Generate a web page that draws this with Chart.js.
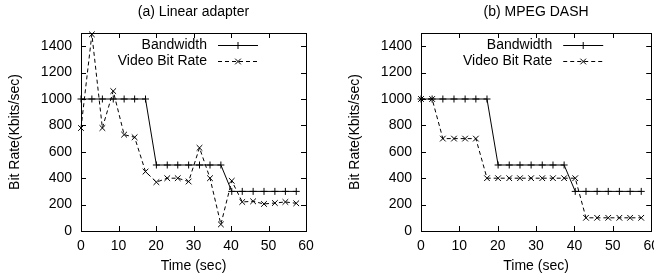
<!DOCTYPE html>
<html>
<head>
<meta charset="utf-8">
<script src="https://cdn.jsdelivr.net/npm/chart.js@4"></script>
<style>
  html, body { margin: 0; padding: 0; background: #fff; overflow: hidden; }
  body { width: 654px; height: 279px; position: relative; }
  .box { position: absolute; top: 0; height: 279px; }
</style>
</head>
<body>
<div class="box" style="left:0;width:330px"><canvas id="chartA"></canvas></div>
<div class="box" style="left:340px;width:326px"><canvas id="chartB"></canvas></div>
<script>
// sample times (sec)
const times = [0, 2.9, 5.7, 8.6, 11.5, 14.3, 17.2, 20.1, 23, 25.8, 28.7, 31.6, 34.4, 37.3, 40.2, 43, 45.9, 48.8, 51.7, 54.5, 57.4];

// (a) Linear adapter
const bandwidthA = [1000, 1000, 1000, 1000, 1000, 1000, 1000, 500, 500, 500, 500, 500, 500, 500, 300, 300, 300, 300, 300, 300, 300];
const videoA = [780, 1490, 780, 1060, 730, 710, 450, 370, 400, 400, 375, 630, 400, 50, 380, 220, 225, 205, 212, 220, 210];

// (b) MPEG DASH
const bandwidthB = [1000, 1000, 1000, 1000, 1000, 1000, 1000, 500, 500, 500, 500, 500, 500, 500, 300, 300, 300, 300, 300, 300, 300];
const videoB = [1000, 1000, 700, 700, 700, 700, 400, 400, 400, 400, 400, 400, 400, 400, 400, 100, 100, 100, 100, 100, 100];

const xTicks = [0, 10, 20, 30, 40, 50, 60];
const yTicks = [0, 200, 400, 600, 800, 1000, 1200, 1400];

const FONT = 'Liberation Sans, Arial, Helvetica, sans-serif';
const FSIZE = 14;

const toXY = (vals) => vals.map((v, i) => ({ x: times[i], y: v }));

// gnuplot-like frame, inward ticks and legend
const framePlugin = {
    id: 'frame',
    afterDraw(chart) {
        const { ctx, chartArea: a, scales } = chart;
        ctx.save();
        ctx.strokeStyle = '#000';
        ctx.lineWidth = 1;
        ctx.setLineDash([]);
        ctx.strokeRect(Math.round(a.left) + 0.5, Math.round(a.top) + 0.5,
            Math.round(a.right - a.left), Math.round(a.bottom - a.top));

        const tl = 5;
        ctx.beginPath();
        scales.x.ticks.forEach(t => {
            const px = Math.round(scales.x.getPixelForValue(t.value)) + 0.5;
            ctx.moveTo(px, a.bottom); ctx.lineTo(px, a.bottom - tl);
            ctx.moveTo(px, a.top); ctx.lineTo(px, a.top + tl);
        });
        scales.y.ticks.forEach(t => {
            const py = Math.round(scales.y.getPixelForValue(t.value)) + 0.5;
            ctx.moveTo(a.left, py); ctx.lineTo(a.left + tl, py);
            ctx.moveTo(a.right, py); ctx.lineTo(a.right - tl, py);
        });
        ctx.stroke();

        // legend
        ctx.font = FSIZE + 'px ' + FONT;
        ctx.fillStyle = '#000';
        ctx.textAlign = 'right';
        ctx.textBaseline = 'middle';
        chart.data.datasets.forEach((ds, i) => {
            const y = Math.round(a.top + 12 + i * 15.5) + 0.5;
            const textEnd = a.right - 99;
            const x0 = a.right - 88, x1 = a.right - 48;
            ctx.fillText(ds.label, textEnd, y);
            ctx.setLineDash(ds.borderDash || []);
            ctx.beginPath();
            ctx.moveTo(x0, y); ctx.lineTo(x1, y);
            ctx.stroke();
            ctx.setLineDash([]);
            const mx = (x0 + x1) / 2, r = ds.pointRadius;
            ctx.beginPath();
            if (ds.pointStyle === 'cross') {
                ctx.moveTo(mx - r, y); ctx.lineTo(mx + r, y);
                ctx.moveTo(mx, y - r); ctx.lineTo(mx, y + r);
            } else {
                const d = r * 0.7071;
                ctx.moveTo(mx - d, y - d); ctx.lineTo(mx + d, y + d);
                ctx.moveTo(mx - d, y + d); ctx.lineTo(mx + d, y - d);
            }
            ctx.stroke();
        });
        ctx.restore();
    }
};

const makeChart = (id, title, bandwidth, video, padRight) => {
    const ctx = document.getElementById(id).getContext('2d');
    return new Chart(ctx, {
        type: 'line',
        data: {
            datasets: [{
                label: 'Bandwidth',
                data: toXY(bandwidth),
                borderColor: '#000',
                borderWidth: 1,
                pointStyle: 'cross',
                pointRadius: 3.5,
                pointBorderColor: '#000',
                pointBorderWidth: 1,
                tension: 0,
                fill: false,
                clip: false
            }, {
                label: 'Video Bit Rate',
                data: toXY(video),
                borderColor: '#000',
                borderWidth: 1,
                borderDash: [4, 3],
                pointStyle: 'crossRot',
                pointRadius: 4,
                pointBorderColor: '#000',
                pointBorderWidth: 1,
                tension: 0,
                fill: false,
                clip: false
            }]
        },
        options: {
            responsive: true,
            maintainAspectRatio: false,
            animation: false,
            layout: { padding: { left: 0, right: padRight, top: 0, bottom: 0 } },
            plugins: {
                legend: { display: false },
                tooltip: { enabled: false },
                title: {
                    display: true,
                    fullSize: false,
                    text: title,
                    color: '#000',
                    font: { family: FONT, size: FSIZE, weight: 'normal' },
                    padding: { top: 4, bottom: 12.2 }
                }
            },
            scales: {
                x: {
                    type: 'linear',
                    min: 0, max: 60,
                    afterBuildTicks: (s) => { s.ticks = xTicks.map(v => ({ value: v })); },
                    afterFit: (s) => { s.height = 48; },
                    grid: { display: false, drawTicks: false },
                    border: { display: false },
                    ticks: {
                        color: '#000', padding: 7, maxRotation: 0,
                        font: { family: FONT, size: FSIZE },
                        callback: (v) => String(v)
                    },
                    title: {
                        display: true, text: 'Time (sec)', color: '#000',
                        font: { family: FONT, size: FSIZE }, padding: { top: 0, bottom: 4 }
                    }
                },
                y: {
                    type: 'linear',
                    min: 0, max: 1500,
                    afterBuildTicks: (s) => { s.ticks = yTicks.map(v => ({ value: v })); },
                    afterFit: (s) => { s.width = 81; },
                    grid: { display: false, drawTicks: false },
                    border: { display: false },
                    ticks: {
                        color: '#000', padding: 9,
                        font: { family: FONT, size: FSIZE },
                        callback: (v) => String(v)
                    },
                    title: {
                        display: true, text: 'Bit Rate(Kbits/sec)', color: '#000',
                        font: { family: FONT, size: FSIZE }, padding: { top: 6.6, bottom: 0 }
                    }
                }
            }
        },
        plugins: [framePlugin]
    });
};

makeChart('chartA', '(a) Linear adapter', bandwidthA, videoA, 24);
makeChart('chartB', '(b) MPEG DASH', bandwidthB, videoB, 0);
</script>
</body>
</html>
